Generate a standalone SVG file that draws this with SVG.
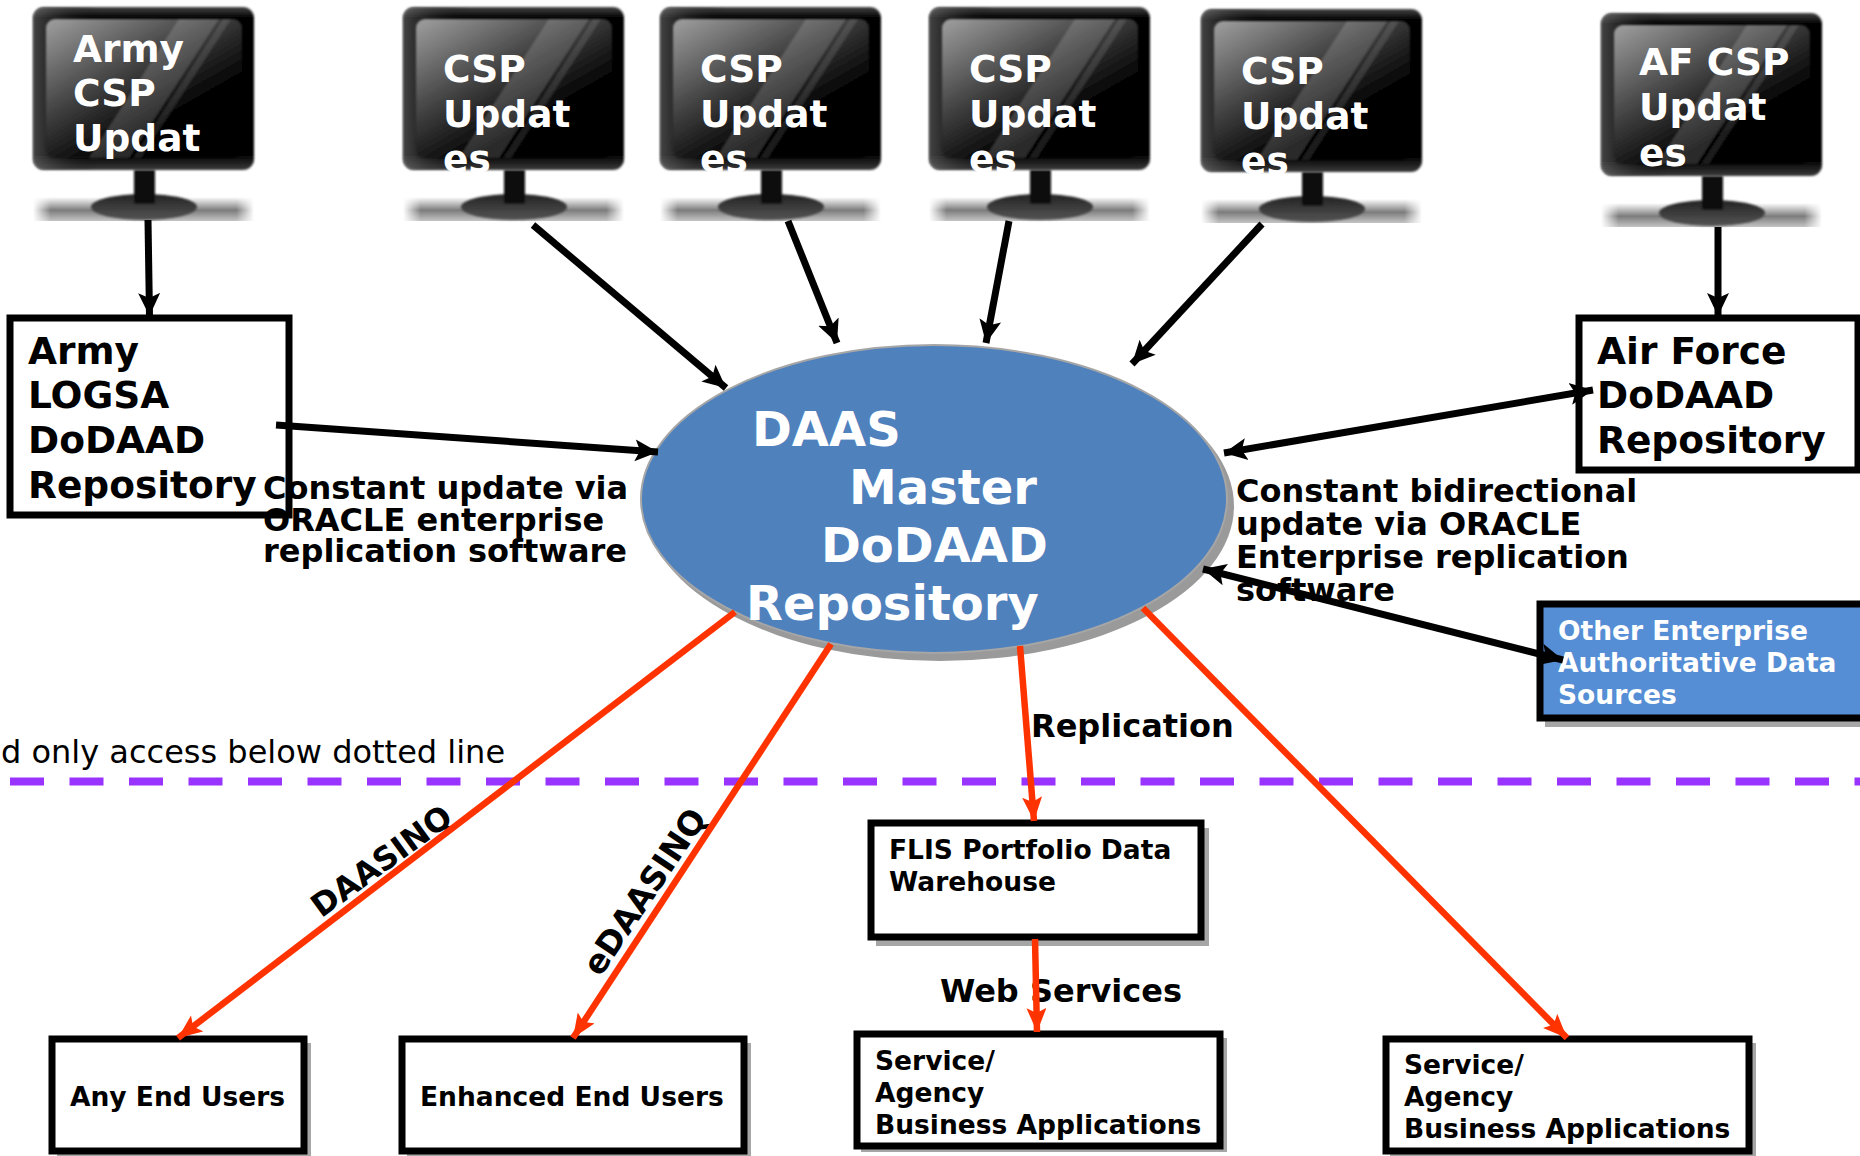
<svg xmlns="http://www.w3.org/2000/svg" width="1860" height="1156" viewBox="0 0 1860 1156">
<style>
text{font-family:"DejaVu Sans",sans-serif;font-weight:700;fill:#000}
.w{fill:#fff}
.mon{font-size:37.500px}
.repo{font-size:37.500px}
.lab{font-size:32px}
.big{font-size:48px}
.box{font-size:26.500px}
.b{fill:#fff;stroke:#000;stroke-width:7}
.s{fill:#a6a6a6}
.k{fill:none;stroke:#000;stroke-width:7}
.r{fill:none;stroke:#ff3300;stroke-width:6.500}
</style>
<defs>
<marker id="ah" markerUnits="userSpaceOnUse" markerWidth="26" markerHeight="24" refX="23" refY="12" orient="auto-start-reverse"><path d="M0,1 L23,12 L0,23 L5,12 Z" fill="#000"/></marker>
<marker id="ar" markerUnits="userSpaceOnUse" markerWidth="26" markerHeight="22" refX="24" refY="10" orient="auto"><path d="M0,0 L24,10 L0,20 L5,10 Z" fill="#ff3300"/></marker>
<filter id="soft" x="-5%" y="-5%" width="110%" height="110%"><feGaussianBlur stdDeviation="1"/></filter>
<linearGradient id="frame" x1="0" y1="0" x2="0" y2="1"><stop offset="0" stop-color="#444"/><stop offset=".07" stop-color="#000"/><stop offset=".9" stop-color="#000"/><stop offset="1" stop-color="#3a3a3a"/></linearGradient>
<linearGradient id="frameh" x1="0" y1="0" x2="1" y2="0"><stop offset="0" stop-color="#888" stop-opacity=".5"/><stop offset=".3" stop-color="#000" stop-opacity="0"/></linearGradient>
<linearGradient id="screen" x1="0" y1="0" x2=".8" y2="1"><stop offset="0" stop-color="#a0a0a0"/><stop offset=".45" stop-color="#3c3c3c"/><stop offset=".75" stop-color="#000"/><stop offset="1" stop-color="#000"/></linearGradient>
<linearGradient id="ground" x1="0" y1="0" x2="0" y2="1"><stop offset="0" stop-color="#fff"/><stop offset=".55" stop-color="#7c7c7c"/><stop offset="1" stop-color="#c4c4c4"/></linearGradient>
<linearGradient id="gh" x1="0" y1="0" x2="1" y2="0"><stop offset="0" stop-color="#fff" stop-opacity="1"/><stop offset=".08" stop-color="#fff" stop-opacity="0"/><stop offset=".92" stop-color="#fff" stop-opacity="0"/><stop offset="1" stop-color="#fff" stop-opacity="1"/></linearGradient>
<linearGradient id="base" x1="0" y1="0" x2="0" y2="1"><stop offset="0" stop-color="#222"/><stop offset="1" stop-color="#555"/></linearGradient>
<g id="monitor">
<rect x="0" y="190" width="221" height="24" fill="url(#ground)"/>
<rect x="0" y="190" width="221" height="24" fill="url(#gh)"/>
<rect x="0" y="0" width="221" height="163" rx="11" fill="url(#frame)" filter="url(#soft)"/>
<rect x="0" y="0" width="221" height="163" rx="11" fill="url(#frameh)"/>
<g filter="url(#soft)">
<rect x="13" y="12" width="196" height="139" rx="9" fill="url(#screen)"/>
<path d="M146,12 L186,12 L96,151 L56,151 Z" fill="#fff" opacity=".17"/>
<path d="M190,12 L198,12 L108,151 L100,151 Z" fill="#fff" opacity=".12"/>
<ellipse cx="111" cy="200" rx="53" ry="13" fill="url(#base)"/>
<rect x="101" y="163" width="21" height="34" fill="#0a0a0a"/>
</g>
</g>
</defs>
<rect width="1860" height="1156" fill="#fff"/>

<g id="daas-master"><ellipse cx="940" cy="506" rx="294" ry="155" fill="#9a9a9a"/><ellipse cx="934" cy="499" rx="293" ry="154" fill="#4f81bd" stroke="#a6a6a6" stroke-width="2"/>
<text class="big w" x="752" y="446">DAAS</text><text class="big w" x="849" y="504">Master</text><text class="big w" x="821" y="562">DoDAAD</text><text class="big w" x="746" y="620">Repository</text></g>

<g id="army-csp"><use href="#monitor" x="33" y="7"/><text class="mon w" x="73" y="62">Army</text><text class="mon w" x="73" y="106">CSP</text><text class="mon w" x="73" y="151">Updat</text></g>
<g id="csp-1"><use href="#monitor" x="403" y="7"/><text class="mon w" x="443" y="82">CSP</text><text class="mon w" x="443" y="127">Updat</text><text class="mon w" x="443" y="172">es</text></g>
<g id="csp-2"><use href="#monitor" x="660" y="7"/><text class="mon w" x="700" y="82">CSP</text><text class="mon w" x="700" y="127">Updat</text><text class="mon w" x="700" y="172">es</text></g>
<g id="csp-3"><use href="#monitor" x="929" y="7"/><text class="mon w" x="969" y="82">CSP</text><text class="mon w" x="969" y="127">Updat</text><text class="mon w" x="969" y="172">es</text></g>
<g id="csp-4"><use href="#monitor" x="1201" y="9"/><text class="mon w" x="1241" y="84">CSP</text><text class="mon w" x="1241" y="129">Updat</text><text class="mon w" x="1241" y="174">es</text></g>
<g id="af-csp"><use href="#monitor" x="1601" y="13"/><text class="mon w" x="1639" y="75">AF CSP</text><text class="mon w" x="1639" y="120">Updat</text><text class="mon w" x="1639" y="166">es</text></g>

<g id="army-logsa"><rect class="b" x="10" y="318" width="279" height="197"/><text class="repo" x="28" y="364">Army</text><text class="repo" x="28" y="408">LOGSA</text><text class="repo" x="28" y="453">DoDAAD</text><text class="repo" x="28" y="498">Repository</text></g>
<g id="af-repo"><rect class="b" x="1579" y="318" width="279" height="152"/><text class="repo" x="1597" y="364">Air Force</text><text class="repo" x="1597" y="408">DoDAAD</text><text class="repo" x="1597" y="453">Repository</text></g>
<g id="other-sources"><rect class="s" x="1545" y="612" width="315" height="115"/><rect x="1540" y="604" width="324" height="114" fill="#558ed5" stroke="#000" stroke-width="7"/><text class="box w" x="1558" y="640">Other Enterprise</text><text class="box w" x="1558" y="672">Authoritative Data</text><text class="box w" x="1558" y="704">Sources</text></g>

<g id="flis"><rect class="s" x="876" y="828" width="333" height="118"/><rect class="b" x="871" y="823" width="330" height="114"/><text class="box" x="889" y="859">FLIS Portfolio Data</text><text class="box" x="889" y="891">Warehouse</text></g>
<g id="any-users"><rect class="s" x="57" y="1043" width="254" height="114"/><rect class="b" x="52" y="1039" width="252" height="112"/><text class="box" x="70" y="1106">Any End Users</text></g>
<g id="enhanced-users"><rect class="s" x="407" y="1043" width="344" height="114"/><rect class="b" x="402" y="1039" width="342" height="112"/><text class="box" x="420" y="1106">Enhanced End Users</text></g>
<g id="service-1"><rect class="s" x="861" y="1038" width="366" height="114"/><rect class="b" x="857" y="1034" width="363" height="112"/><text class="box" x="875" y="1070">Service/</text><text class="box" x="875" y="1102">Agency</text><text class="box" x="875" y="1134">Business Applications</text></g>
<g id="service-2"><rect class="s" x="1390" y="1043" width="366" height="114"/><rect class="b" x="1386" y="1039" width="363" height="112"/><text class="box" x="1404" y="1074">Service/</text><text class="box" x="1404" y="1106">Agency</text><text class="box" x="1404" y="1138">Business Applications</text></g>

<g id="labels">
<text x="1" y="763" style="font-size:32px;font-weight:400">d only access below dotted line</text>
<text class="lab" x="263" y="499">Constant update via</text><text class="lab" x="263" y="531">ORACLE enterprise</text><text class="lab" x="263" y="562">replication software</text>
<text class="lab" x="1236" y="502">Constant bidirectional</text><text class="lab" x="1236" y="535">update via ORACLE</text><text class="lab" x="1236" y="568">Enterprise replication</text><text class="lab" x="1236" y="601">software</text>
<text class="lab" x="1031" y="737">Replication</text>
<text class="lab" x="940" y="1002">Web Services</text>
<text transform="translate(388,870) rotate(-36)" text-anchor="middle" style="font-size:32px">DAASINQ</text>
<text transform="translate(654,898) rotate(-56)" text-anchor="middle" style="font-size:33px">eDAASINQ</text>
</g>

<line id="access-line" x1="10" y1="781.500" x2="1860" y2="781.500" stroke="#9933ff" stroke-width="8" stroke-dasharray="34 25.500"/>

<g id="connectors">
<line class="k" x1="148" y1="220" x2="149.500" y2="316" marker-end="url(#ah)"/>
<line class="k" x1="533" y1="225" x2="726" y2="388" marker-end="url(#ah)"/>
<line class="k" x1="788" y1="221" x2="837" y2="343" marker-end="url(#ah)"/>
<line class="k" x1="1009" y1="221" x2="986" y2="343" marker-end="url(#ah)"/>
<line class="k" x1="1262" y1="224" x2="1132" y2="364" marker-end="url(#ah)"/>
<line class="k" x1="1718" y1="227" x2="1718" y2="316" marker-end="url(#ah)"/>
<line class="k" x1="276" y1="425" x2="658" y2="452" marker-end="url(#ah)"/>
<line class="k" x1="1224" y1="453" x2="1593" y2="390" marker-start="url(#ah)" marker-end="url(#ah)"/>
<line class="k" x1="1203" y1="569" x2="1563" y2="660" marker-start="url(#ah)" marker-end="url(#ah)"/>
<line class="r" x1="735" y1="612" x2="178" y2="1038" marker-end="url(#ar)"/>
<line class="r" x1="831" y1="644" x2="573" y2="1038" marker-end="url(#ar)"/>
<line class="r" x1="1020" y1="646" x2="1034" y2="821" marker-end="url(#ar)"/>
<line class="r" x1="1035" y1="939" x2="1037" y2="1032" marker-end="url(#ar)"/>
<line class="r" x1="1143" y1="608" x2="1567" y2="1038" marker-end="url(#ar)"/>
</g>
</svg>
